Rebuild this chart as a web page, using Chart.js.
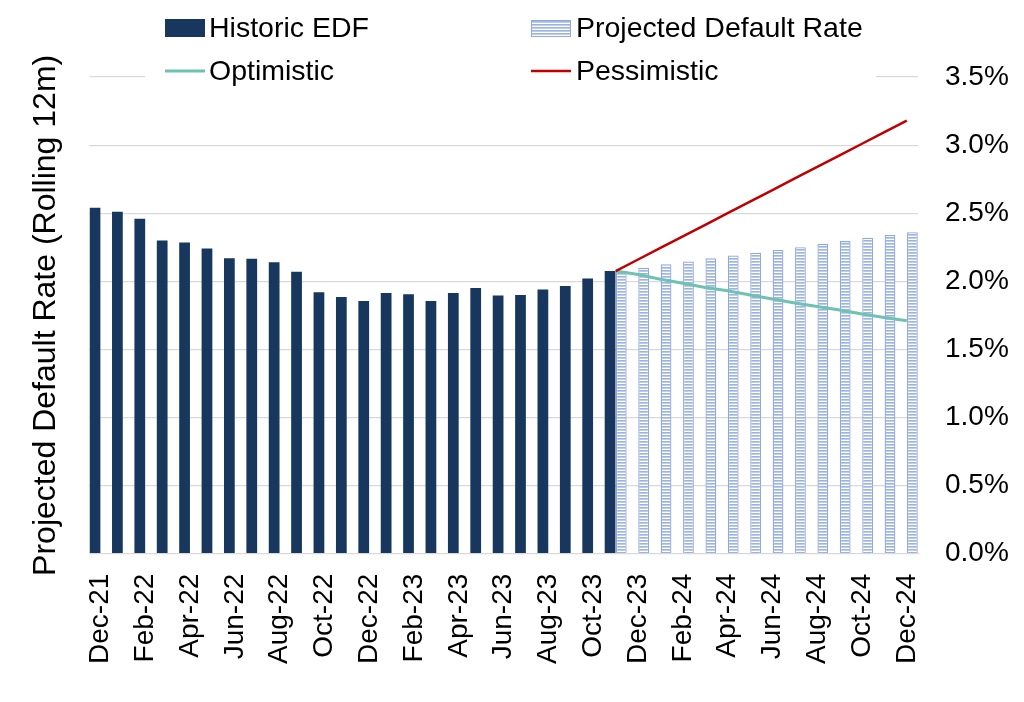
<!DOCTYPE html>
<html>
<head>
<meta charset="utf-8">
<script src="https://cdn.jsdelivr.net/npm/chart.js@4"></script>
<style>
  html, body { margin: 0; padding: 0; background: #fff; }
  #wrap { width: 1024px; height: 702px; }
</style>
</head>
<body>
<div id="wrap"><canvas id="edf-chart" width="1024" height="702"></canvas></div>
<script>
// months on the x axis
const months = [
    'Dec-21', 'Jan-22', 'Feb-22', 'Mar-22', 'Apr-22', 'May-22', 'Jun-22', 'Jul-22', 'Aug-22', 'Sep-22', 'Oct-22', 'Nov-22',
    'Dec-22', 'Jan-23', 'Feb-23', 'Mar-23', 'Apr-23', 'May-23', 'Jun-23', 'Jul-23', 'Aug-23', 'Sep-23', 'Oct-23', 'Nov-23',
    'Dec-23', 'Jan-24', 'Feb-24', 'Mar-24', 'Apr-24', 'May-24', 'Jun-24', 'Jul-24', 'Aug-24', 'Sep-24', 'Oct-24', 'Nov-24',
    'Dec-24'
];

// values in %
const historicEdf = [
    2.54, 2.51, 2.46, 2.30, 2.285, 2.24, 2.17, 2.165, 2.14, 2.07, 1.92, 1.885,
    1.855, 1.915, 1.905, 1.855, 1.915, 1.95, 1.895, 1.90, 1.94, 1.965, 2.02, 2.075,
    null, null, null, null, null, null, null, null, null, null, null, null,
    null
];
const projectedRate = [
    null, null, null, null, null, null, null, null, null, null, null, null,
    null, null, null, null, null, null, null, null, null, null, null, 2.075,
    2.10, 2.125, 2.145, 2.17, 2.19, 2.21, 2.23, 2.25, 2.275, 2.295, 2.32, 2.34,
    2.36
];
const optimistic = [
    null, null, null, null, null, null, null, null, null, null, null, null,
    null, null, null, null, null, null, null, null, null, null, null, 2.075,
    2.05, 2.015, 1.985, 1.955, 1.93, 1.90, 1.87, 1.84, 1.815, 1.79, 1.76, 1.735,
    1.71
];
const pessimistic = [
    null, null, null, null, null, null, null, null, null, null, null, null,
    null, null, null, null, null, null, null, null, null, null, null, 2.075,
    2.16, 2.245, 2.33, 2.415, 2.50, 2.585, 2.67, 2.755, 2.84, 2.925, 3.01, 3.095,
    3.18
];

const yTicks = [0, 0.5, 1.0, 1.5, 2.0, 2.5, 3.0, 3.5];

const NAVY = '#17375e';
const TEAL = '#6fc1b2';
const RED = '#c00000';
const GRID = '#d9d9d9';
const FONT = '"Liberation Sans", Arial, sans-serif';

Chart.defaults.font.family = FONT;
Chart.defaults.color = '#000';

// striped fill for the projected bars
function makeStripes() {
    const c = document.createElement('canvas');
    c.width = 4;
    c.height = 3;
    const g = c.getContext('2d');
    g.fillStyle = '#ffffff';
    g.fillRect(0, 0, 4, 3);
    g.fillStyle = '#9db3e0';
    g.fillRect(0, 0, 4, 1);
    g.fillStyle = '#bfcdec';
    g.fillRect(0, 1, 4, 1);
    return g.createPattern(c, 'repeat');
}
const stripes = makeStripes();

// legend sits over the top of the plot, like the original
const overlayLegend = {
    id: 'overlayLegend',
    afterDraw(chart) {
        const ctx = chart.ctx;
        ctx.save();
        ctx.fillStyle = '#fff';
        ctx.fillRect(145, 0, 731, 88);

        ctx.fillStyle = NAVY;
        ctx.fillRect(165, 19, 40, 18);

        ctx.fillStyle = stripes;
        ctx.fillRect(531, 20, 40, 17);
        ctx.strokeStyle = '#8faadc';
        ctx.lineWidth = 1;
        ctx.strokeRect(531.5, 20.5, 39, 16);

        ctx.lineWidth = 3;
        ctx.strokeStyle = TEAL;
        ctx.beginPath();
        ctx.moveTo(165, 71);
        ctx.lineTo(205, 71);
        ctx.stroke();

        ctx.lineWidth = 2.5;
        ctx.strokeStyle = RED;
        ctx.beginPath();
        ctx.moveTo(531, 71);
        ctx.lineTo(571, 71);
        ctx.stroke();

        ctx.fillStyle = '#000';
        ctx.font = '28.5px ' + FONT;
        ctx.textBaseline = 'alphabetic';
        ctx.fillText('Historic EDF', 209, 37);
        ctx.fillText('Projected Default Rate', 576, 37);
        ctx.fillText('Optimistic', 209, 80);
        ctx.fillText('Pessimistic', 576, 80);
        ctx.restore();
    }
};

const ctx = document.getElementById('edf-chart').getContext('2d');

new Chart(ctx, {
    type: 'bar',
    data: {
        labels: months,
        datasets: [
            {
                type: 'line',
                label: 'Pessimistic',
                data: pessimistic,
                borderColor: RED,
                borderWidth: 2.5,
                pointRadius: 0,
                tension: 0,
                yAxisID: 'y',
                order: 0
            },
            {
                type: 'line',
                label: 'Optimistic',
                data: optimistic,
                borderColor: TEAL,
                borderWidth: 3,
                pointRadius: 0,
                tension: 0,
                yAxisID: 'y',
                order: 1
            },
            {
                label: 'Historic EDF',
                data: historicEdf,
                backgroundColor: NAVY,
                borderWidth: 0,
                categoryPercentage: 1.0,
                barPercentage: 0.96,
                yAxisID: 'y',
                order: 2
            },
            {
                label: 'Projected Default Rate',
                data: projectedRate,
                backgroundColor: stripes,
                borderColor: '#8ea9db',
                borderWidth: 1.3,
                borderSkipped: 'bottom',
                categoryPercentage: 1.0,
                barPercentage: 0.96,
                yAxisID: 'y',
                order: 2
            }
        ]
    },
    options: {
        responsive: false,
        animation: false,
        layout: {
            padding: { top: 77, right: 0, bottom: 18, left: 0 }
        },
        plugins: {
            legend: { display: false },
            tooltip: { enabled: false }
        },
        scales: {
            x: {
                offset: true,
                grid: { display: false, drawTicks: false },
                border: { display: true, color: GRID, width: 1 },
                ticks: {
                    autoSkip: false,
                    maxRotation: 90,
                    minRotation: 90,
                    padding: 20,
                    font: { size: 28 },
                    callback: (value, index) => (index % 2 === 0 ? months[index] : '')
                }
            },
            y: {
                position: 'right',
                min: 0,
                max: 3.5,
                afterBuildTicks: (scale) => {
                    scale.ticks = yTicks.map(v => ({ value: v }));
                },
                afterFit: (scale) => {
                    scale.width = 106;
                },
                grid: { color: GRID, lineWidth: 1.2, drawTicks: false },
                border: { display: false },
                ticks: {
                    padding: 27,
                    font: { size: 28 },
                    callback: (value) => value.toFixed(1) + '%'
                }
            },
            yTitle: {
                position: 'left',
                min: 0,
                max: 3.5,
                grid: { display: false, drawTicks: false },
                border: { display: false },
                ticks: { display: false },
                title: {
                    display: true,
                    text: 'Projected Default Rate (Rolling 12m)',
                    font: { size: 32 },
                    color: '#000',
                    padding: { top: 27, bottom: 24 }
                }
            }
        }
    },
    plugins: [overlayLegend]
});
</script>
</body>
</html>
